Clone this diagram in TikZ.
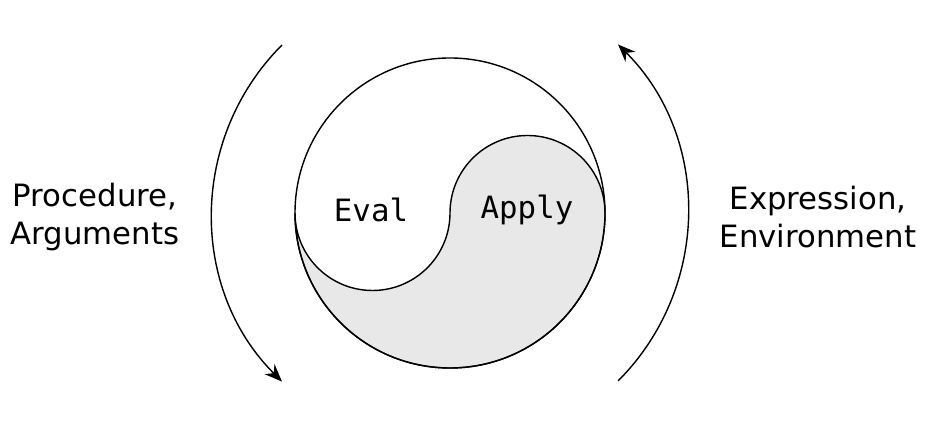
\documentclass[tikz,border=0pt]{standalone}
\usepackage{fontspec}
\setmainfont{DejaVu Sans}
\setmonofont{DejaVu Sans Mono}
\usetikzlibrary{arrows.meta}

\begin{document}
\begin{tikzpicture}[x=0.02cm, y=-0.02cm,
		label/.style = {font=\fontsize{17.5}{22}\selectfont, align=center},
		code/.style = {font=\ttfamily\fontsize{17.5}{22}\selectfont}]
		%variables
		\def\R{155};
		\def\r{77.5};
		\useasboundingbox (0,0) rectangle (943,428);

		%shaded half
		\fill [gray!18] (295,213) arc [start angle=180, end angle=0, radius=\R]
			arc [start angle=0, end angle=-180, radius=\r]
			arc [start angle=0, end angle=180, radius=\r];
		\draw [thick] (295,213) arc [start angle=180, end angle=0, radius=\R]
			arc [start angle=0, end angle=-180, radius=\r]
			arc [start angle=0, end angle=180, radius=\r];
		\draw [thick] (450,213) circle [radius=\R];

		%cycle arrows
		\draw [thick, -{Stealth[length=10pt, width=8pt]}] (282,45) arc [start angle=-135, end angle=-225, radius=238];
		\draw [thick, -{Stealth[length=10pt, width=8pt]}] (618,381) arc [start angle=45, end angle=-45, radius=238];

		%labels
		\node [code] (eval) at (371,210) {Eval};
		\node [code] (apply) at (527,210) {Apply};
		\node [label] (proc) at (95,217) {Procedure,\\Arguments};
		\node [label] (expr) at (818,217) {Expression,\\Environment};
	\end{tikzpicture}
\end{document}
